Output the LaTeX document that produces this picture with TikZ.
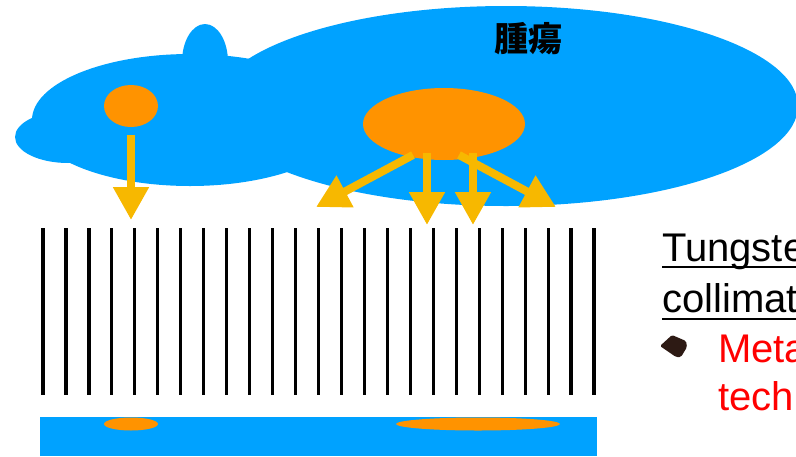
\documentclass[tikz,border=0pt]{standalone}
\usepackage{fontspec}
\setmainfont{Liberation Sans}
\newfontfamily\cjk{Noto Sans CJK JP}
\usetikzlibrary{arrows.meta,shapes.geometric}
\definecolor{tissue}{RGB}{0,162,255}
\definecolor{uptake}{RGB}{255,147,0}
\definecolor{beamgold}{RGB}{247,184,0}
\definecolor{bulletbrown}{RGB}{45,26,20}
\definecolor{notered}{RGB}{255,0,0}
\begin{document}
\begin{tikzpicture}[x=1pt,y=-1pt,
  spot/.style={ellipse, fill=uptake, inner sep=0pt},
  beam/.style={draw=beamgold, line width=8pt, -{Triangle[length=33pt,width=34pt]}},
  septum/.style={line width=3.2pt, black},
  sidetext/.style={anchor=base west, inner sep=0pt, font=\fontsize{40}{40}\selectfont},
  uline/.style={line width=2pt}]
\useasboundingbox (0,0) rectangle (796,456);
\clip (0,0) rectangle (796,456);

% patient body (tumour region)
\fill[tissue] (506,106) ellipse [x radius=292pt, y radius=100pt];
\fill[tissue] (190,120) ellipse [x radius=158pt, y radius=66pt];
\fill[tissue] (68,137) ellipse [x radius=53pt, y radius=26pt];
\fill[tissue] (205,62) ellipse [x radius=23pt, y radius=38pt];

% uptake spots
\node[spot, minimum width=54pt, minimum height=42pt] (spotL) at (131,106) {};
\node[spot, minimum width=162pt, minimum height=72pt] (spotR) at (444,124) {};
\node[font=\cjk\bfseries\fontsize{34}{34}\selectfont, inner sep=0pt] (tumor) at (528,39) {腫瘍};

% emitted photons
\coordinate (aLs) at (131,135);  \coordinate (aLe) at (131,220);
\coordinate (a1s) at (413,155);  \coordinate (a1e) at (316,207);
\coordinate (a2s) at (427,153);  \coordinate (a2e) at (427,225);
\coordinate (a3s) at (473,153);  \coordinate (a3e) at (473,225);
\coordinate (a4s) at (459,155);  \coordinate (a4e) at (556,207);
\draw[beam] (aLs) -- (aLe);
\draw[beam] (a1s) -- (a1e);
\draw[beam] (a2s) -- (a2e);
\draw[beam] (a3s) -- (a3e);
\draw[beam] (a4s) -- (a4e);

% collimator septa
\foreach \i in {0,...,24}
  \draw[septum] ({43+22.96*\i},228) -- ({43+22.96*\i},395);

% detector with projected spots
\fill[tissue] (40,417) rectangle (597,456);
\node[spot, minimum width=54pt, minimum height=13pt] (imgL) at (131,424) {};
\node[spot, minimum width=164pt, minimum height=13pt] (imgR) at (478,424) {};

% side notes
\node[sidetext] (t1) at (662,261) {Tungste};
\draw[uline] ([yshift=-6pt]t1.base west) -- ([yshift=-6pt]t1.base east);
\node[sidetext] (t2) at (662,312) {collimat};
\draw[uline] ([yshift=-7pt]t2.base west) -- ([yshift=-7pt]t2.base east);
\fill[bulletbrown, rounded corners=1.5pt] (660,346) -- (672,335) -- (686,341) -- (687,347) -- (681,357) -- (676,357) -- cycle;
\node[sidetext, text=notered] (t3) at (718,362) {Meta};
\node[sidetext, text=notered] (t4) at (718,410) {tech};
\end{tikzpicture}
\end{document}
